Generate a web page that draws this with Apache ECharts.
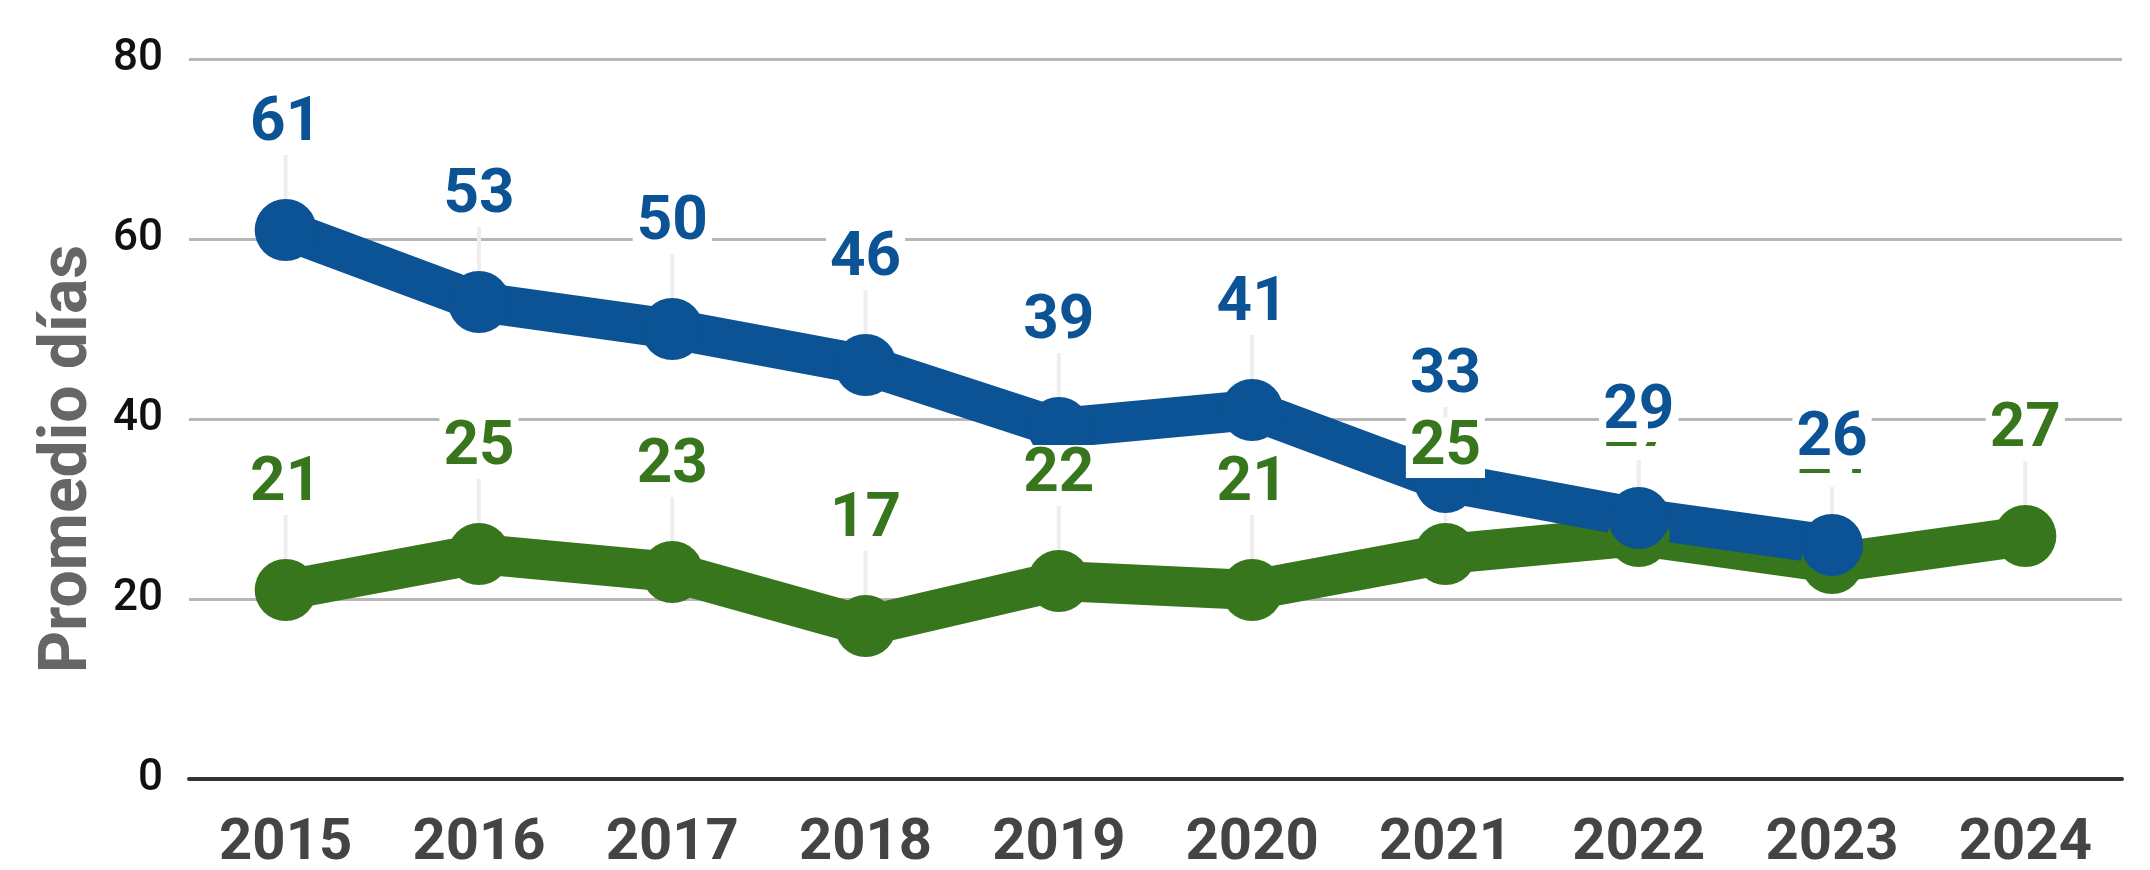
<!DOCTYPE html>
<html>
<head>
<meta charset="utf-8">
<script src="https://cdn.jsdelivr.net/npm/echarts@6/dist/echarts.min.js"></script>
<style>
  html, body { margin: 0; padding: 0; background: #fff; }
  #chart { width: 2150px; height: 870px; }
</style>
</head>
<body>
<div id="chart"></div>
<script>
const years = ['2015','2016','2017','2018','2019','2020','2021','2022','2023','2024'];
const blueValues = [61, 53, 50, 46, 39, 41, 33, 29, 26, null];
const greenValues = [21, 25, 23, 17, 22, 21, 25, 27, 24, 27];
const yTicks = { min: 0, max: 80, interval: 20 };
const yTitle = 'Promedio días';

const BLUE = '#0b5394';
const GREEN = '#38761d';

function makeSeries(name, data, color) {
  return {
    name: name,
    type: 'line',
    data: data,
    symbol: 'circle',
    symbolSize: 62,
    lineStyle: { width: 40, color: color },
    itemStyle: { color: color },
    label: {
      show: true,
      position: 'top',
      distance: 4,
      color: color,
      fontFamily: 'Roboto',
      fontWeight: 'bold',
      fontSize: 62,
      lineHeight: 56,
      backgroundColor: '#ffffff',
      padding: [2, 4, 2, 4]
    },
    labelLayout: { dy: -41 },
    labelLine: { show: true, lineStyle: { color: '#eeeeee', width: 4 } },
    emphasis: { disabled: true },
    animation: false
  };
}

const chart = echarts.init(document.getElementById('chart'));
chart.setOption({
  animation: false,
  grid: { left: 189, right: 28, top: 59, bottom: 91, containLabel: false, outerBoundsMode: 'none' },
  xAxis: {
    type: 'category',
    data: years,
    boundaryGap: true,
    axisTick: { show: false },
    axisLine: { show: true, lineStyle: { color: '#333333', width: 4 } },
    axisLabel: { color: '#444444', fontFamily: 'Roboto', fontWeight: 'bold', fontSize: 58, margin: 36 }
  },
  yAxis: {
    type: 'value',
    min: yTicks.min,
    max: yTicks.max,
    interval: yTicks.interval,
    name: yTitle,
    nameLocation: 'middle',
    nameGap: 86,
    nameTextStyle: { color: '#666666', fontFamily: 'Roboto', fontWeight: 'bold', fontSize: 66, padding: [0, 80, 0, 0] },
    axisLine: { show: false },
    axisTick: { show: false },
    splitLine: { lineStyle: { color: '#b7b7b7', width: 3 } },
    axisLabel: { color: '#111111', fontFamily: 'Roboto', fontWeight: 500, fontSize: 44, margin: 26 }
  },
  series: [
    makeSeries('Verde', greenValues, GREEN),
    makeSeries('Azul', blueValues, BLUE)
  ]
});
</script>
</body>
</html>
